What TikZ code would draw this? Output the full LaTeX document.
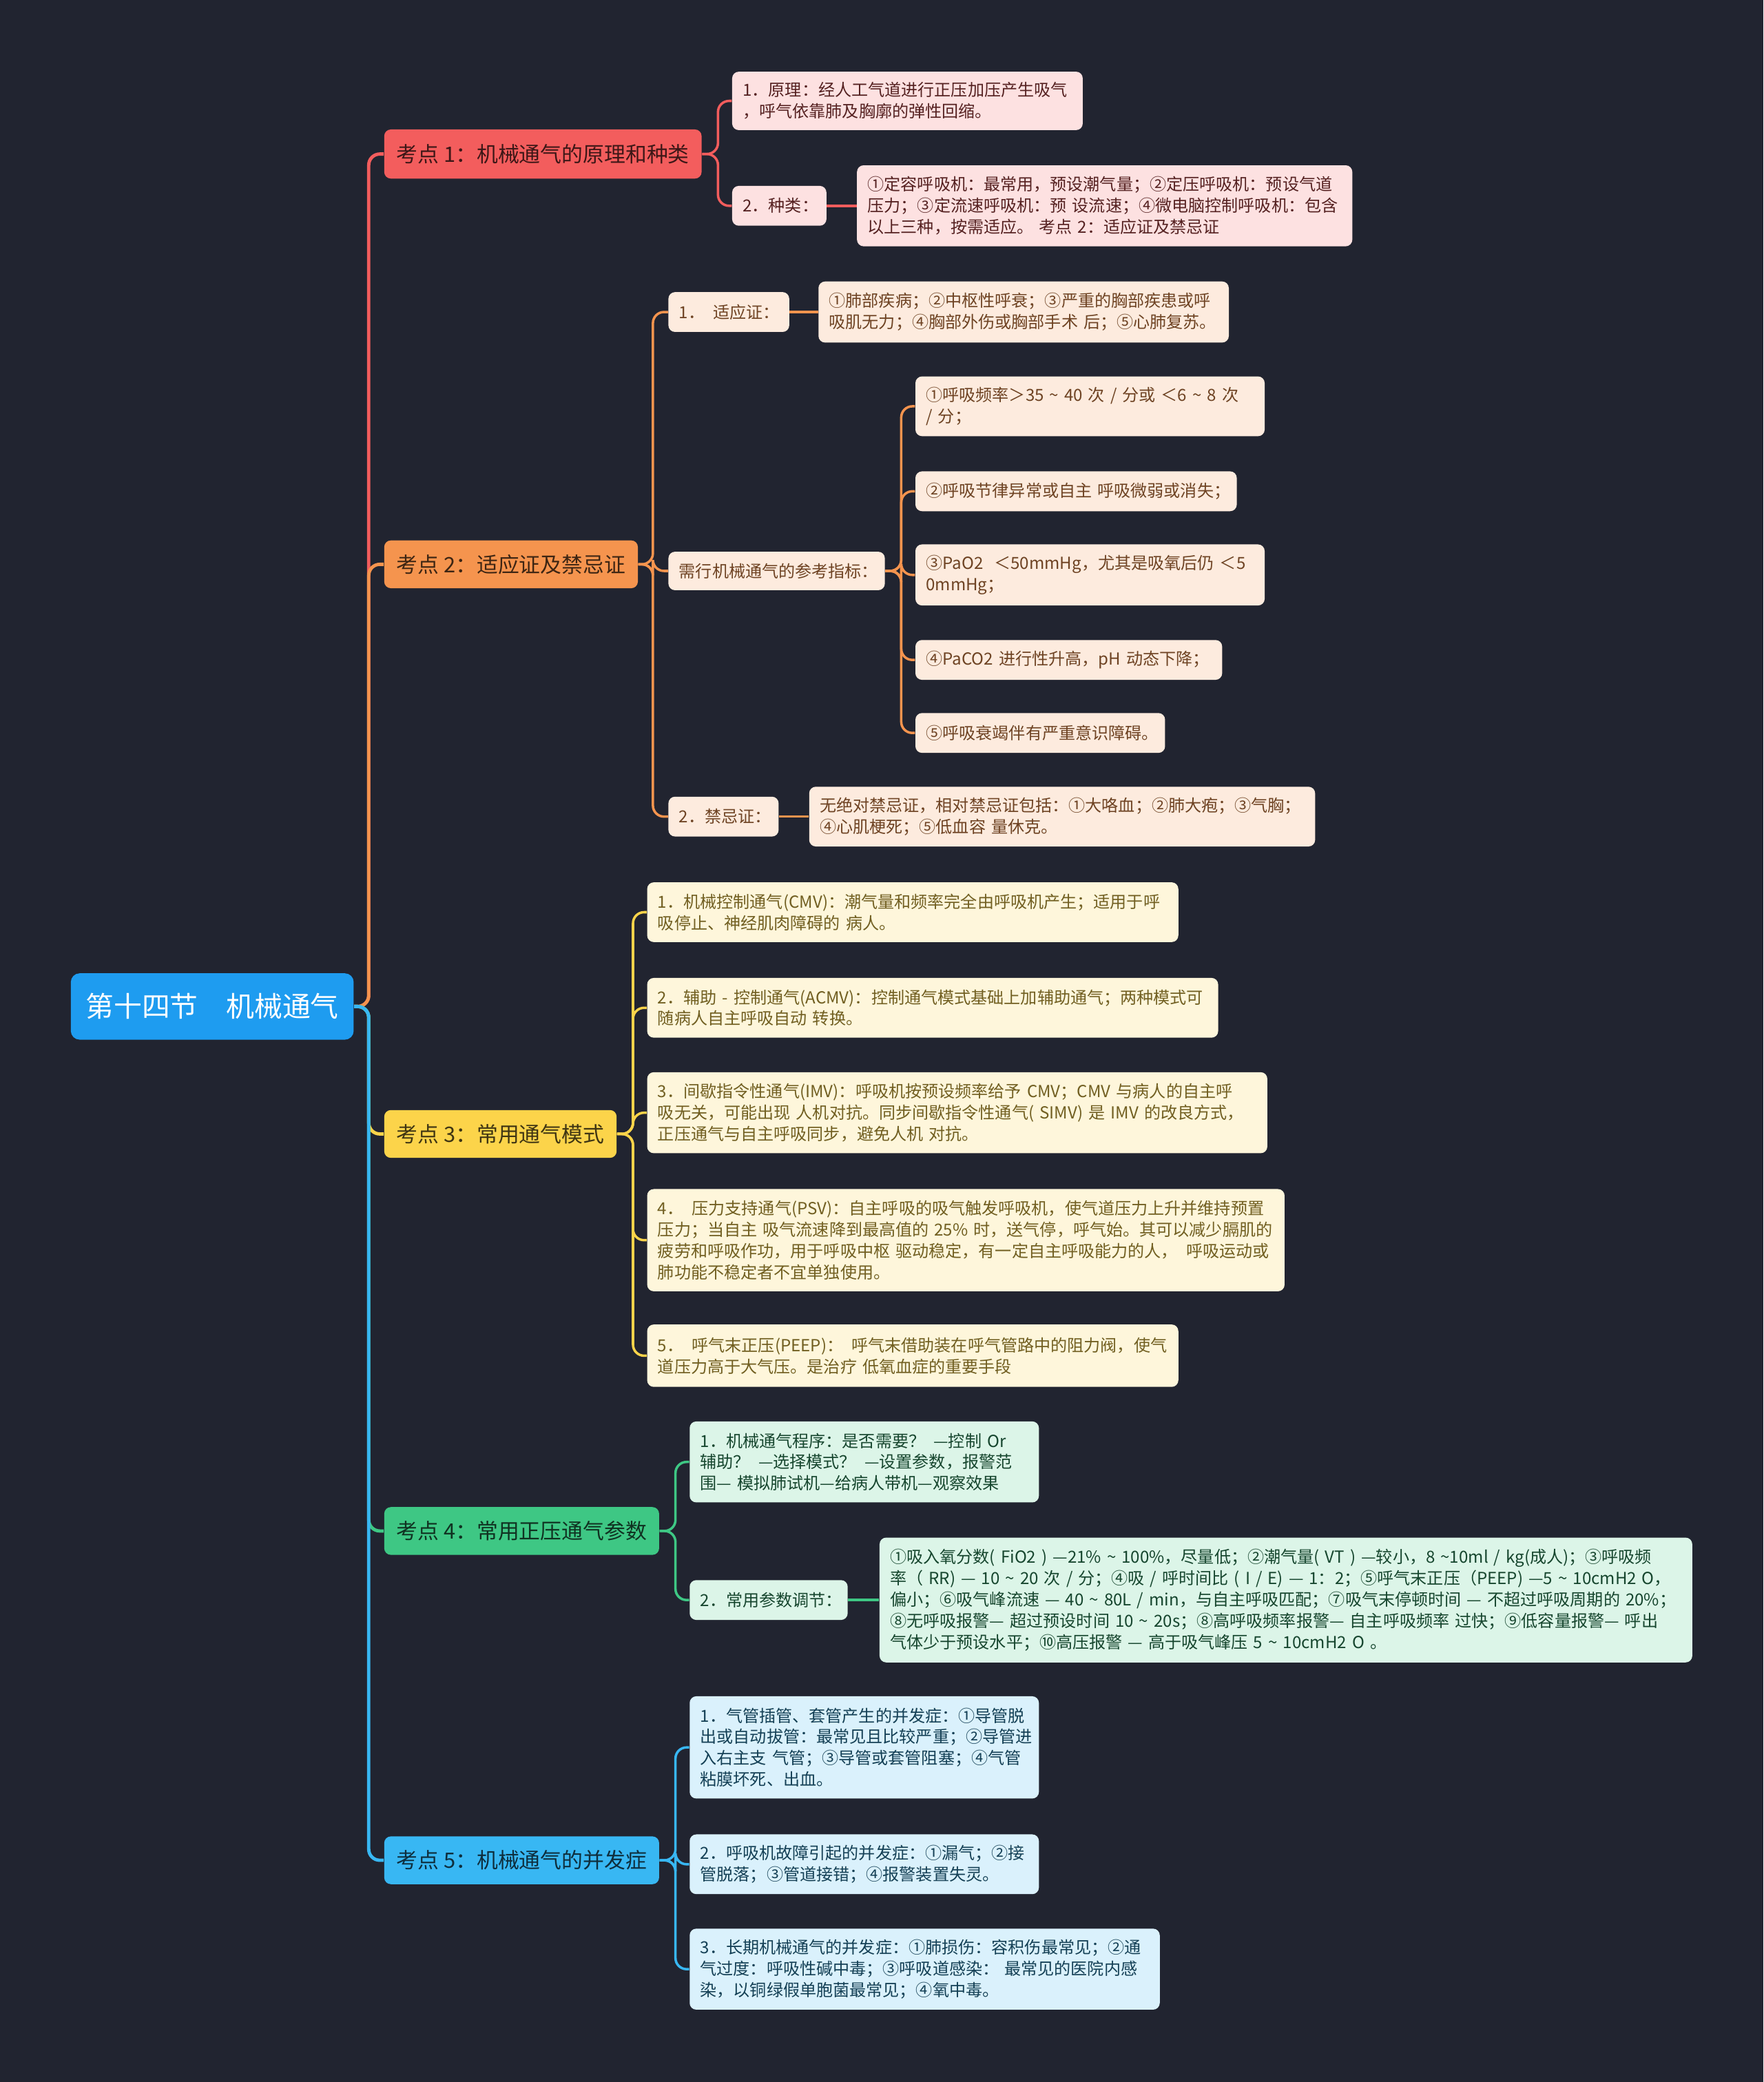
\documentclass[tikz,border=0pt]{standalone}
\usepackage{fontspec}
\setmainfont{Noto Sans CJK SC}
\usepackage{xcolor}
\usepackage{tikz}

\definecolor{bgc}{HTML}{212430}
\definecolor{rootc}{HTML}{1E9CF0}
\definecolor{kr}{HTML}{F35D5D}
\definecolor{ko}{HTML}{F5944E}
\definecolor{ky}{HTML}{FCD44A}
\definecolor{kg}{HTML}{3EC784}
\definecolor{kb}{HTML}{38B7F3}
\definecolor{lr}{HTML}{FDE1E1}
\definecolor{lo}{HTML}{FDEBDE}
\definecolor{ly}{HTML}{FEF6DB}
\definecolor{lg}{HTML}{DCF5E8}
\definecolor{lb}{HTML}{DAF1FC}
\newcommand{\tld}{\textasciitilde}

\begin{document}
\begin{tikzpicture}[x=0.6pt, y=-0.6pt,
  kp/.style={anchor=west, rounded corners=3pt, inner xsep=4.8pt, font=\fontsize{9.6pt}{11pt}\selectfont},
  leaf/.style={anchor=west, rounded corners=3pt, align=left, inner xsep=4.8pt, inner ysep=2pt, font=\fontsize{7.5pt}{9.6pt}\selectfont},
  rleaf/.style={leaf, fill=lr, text=kr!35!black},
  oleaf/.style={leaf, fill=lo, text=ko!45!black},
  yleaf/.style={leaf, fill=ly, text=ky!45!black},
  gleaf/.style={leaf, fill=lg, text=kg!35!black},
  bleaf/.style={leaf, fill=lb, text=kb!35!black},
  wh/.style 2 args={minimum width=#1*0.6pt, minimum height=#2*0.6pt},
  tw/.code 2 args={\pgfmathsetmacro\boxw{(#1-16)*0.6}\edef\setw{\noexpand\tikzset{text width=\boxw pt, minimum height=#2*0.6pt}}\setw},
  trunk/.style={line width=1.5pt, rounded corners=5pt},
  twig/.style={line width=1.1pt, rounded corners=5pt}]

\fill[bgc] (0,0) rectangle (1328,1568);

\node[kp, fill=rootc, text=white, wh={213}{50}, rounded corners=4pt, font=\fontsize{12.7pt}{14pt}\selectfont] (root) at (53,758) {第十四节　机械通气};

\node[kp, fill=kr, text=kr!25!black, wh={239}{37}] (k1) at (289,116) {考点 1：机械通气的原理和种类};
\node[kp, fill=ko, text=ko!25!black, wh={191}{36}] (k2) at (289,425) {考点 2：适应证及禁忌证};
\node[kp, fill=ky, text=ky!25!black, wh={175}{36}] (k3) at (289,854) {考点 3：常用通气模式};
\node[kp, fill=kg, text=kg!25!black, wh={207}{36}] (k4) at (289,1153) {考点 4：常用正压通气参数};
\node[kp, fill=kb, text=kb!25!black, wh={207}{36}] (k5) at (289,1401) {考点 5：机械通气的并发症};

\draw[trunk, kr] (root.east) -- ++(11,0) |- (k1.west);
\draw[trunk, ko] (root.east) -- ++(11,0) |- (k2.west);
\draw[trunk, ky] (root.east) -- ++(11,0) |- (k3.west);
\draw[trunk, kg] (root.east) -- ++(11,0) |- (k4.west);
\draw[trunk, kb] (root.east) -- ++(11,0) |- (k5.west);

\node[rleaf, tw={264}{44}] (k1a) at (551,76) {1．原理：经人工气道进行正压加压产生吸气\\，呼气依靠肺及胸廓的弹性回缩。};
\node[rleaf, tw={71}{30}] (k1b) at (551,155) {2．种类：};
\node[rleaf, tw={373}{61}] (k1c) at (645,155) {①定容呼吸机：最常用，预设潮气量；②定压呼吸机：预设气道\\压力；③定流速呼吸机：预 设流速；④微电脑控制呼吸机：包含\\以上三种，按需适应。 考点 2：适应证及禁忌证};
\draw[twig, kr] (k1.east) -- ++(12,0) |- (k1a.west);
\draw[twig, kr] (k1.east) -- ++(12,0) |- (k1b.west);
\draw[twig, kr] (k1b.east) -- (k1c.west);

\node[oleaf, tw={91}{30}] (k2a) at (503,235) {1．\enspace 适应证：};
\node[oleaf, tw={309}{46}] (k2d) at (616,235) {①肺部疾病；②中枢性呼衰；③严重的胸部疾患或呼\\吸肌无力；④胸部外伤或胸部手术 后；⑤心肺复苏。};
\node[oleaf, tw={163}{29}] (k2b) at (503,430) {需行机械通气的参考指标：};
\node[oleaf, tw={263}{45}] (k2b1) at (689,306) {①呼吸频率＞35 \tld{} 40 次 / 分或 ＜6 \tld{} 8 次\\/ 分；};
\node[oleaf, tw={242}{30}] (k2b2) at (689,370) {②呼吸节律异常或自主~呼吸微弱或消失；};
\node[oleaf, tw={263}{46}] (k2b3) at (689,433) {③PaO2 \ ＜50mmHg，尤其是吸氧后仍 ＜5\\0mmHg；};
\node[oleaf, tw={231}{30}] (k2b4) at (689,497) {④PaCO2 进行性升高，pH 动态下降；};
\node[oleaf, tw={188}{30}] (k2b5) at (689,552) {⑤呼吸衰竭伴有严重意识障碍。};
\node[oleaf, tw={83}{30}] (k2c) at (503,615) {2．禁忌证：};
\node[oleaf, tw={381}{45}] (k2e) at (609,615) {无绝对禁忌证，相对禁忌证包括：①大咯血；②肺大疱；③气胸；\\④心肌梗死；⑤低血容 量休克。};
\draw[twig, ko] (k2.east) -- ++(11,0) |- (k2a.west);
\draw[twig, ko] (k2.east) -- ++(11,0) |- (k2b.west);
\draw[twig, ko] (k2.east) -- ++(11,0) |- (k2c.west);
\draw[twig, ko] (k2a.east) -- (k2d.west);
\draw[twig, ko] (k2c.east) -- (k2e.west);
\foreach \i in {1,...,5}
  \draw[twig, ko] (k2b.east) -- ++(12,0) |- (k2b\i.west);

\node[yleaf, tw={400}{45}] (k3a) at (487,687) {1．机械控制通气(CMV)：潮气量和频率完全由呼吸机产生；适用于呼\\吸停止、神经肌肉障碍的 病人。};
\node[yleaf, tw={430}{45}] (k3b) at (487,759) {2．辅助 - 控制通气(ACMV)：控制通气模式基础上加辅助通气；两种模式可\\随病人自主呼吸自动 转换。};
\node[yleaf, tw={467}{61}] (k3c) at (487,838) {3．间歇指令性通气(IMV)：呼吸机按预设频率给予 CMV；CMV 与病人的自主呼\\吸无关，可能出现 人机对抗。同步间歇指令性通气( SIMV) 是 IMV 的改良方式，\\正压通气与自主呼吸同步，避免人机 对抗。};
\node[yleaf, tw={480}{77}] (k3d) at (487,934) {4．\enspace 压力支持通气(PSV)：自主呼吸的吸气触发呼吸机，使气道压力上升并维持预置\\压力；当自主 吸气流速降到最高值的 25\% 时，送气停，呼气始。其可以减少膈肌的\\疲劳和呼吸作功，用于呼吸中枢 驱动稳定，有一定自主呼吸能力的人，\enspace 呼吸运动或\\肺功能不稳定者不宜单独使用。};
\node[yleaf, tw={400}{47}] (k3e) at (487,1021) {5．\enspace 呼气末正压(PEEP)：\enspace 呼气末借助装在呼气管路中的阻力阀，使气\\道压力高于大气压。是治疗 低氧血症的重要手段};
\foreach \i in {a,b,c,d,e}
  \draw[twig, ky] (k3.east) -- ++(12,0) |- (k3\i.west);

\node[gleaf, tw={263}{61}] (k4a) at (519,1101) {1．机械通气程序：是否需要？\enspace —控制 Or\\辅助？\enspace —选择模式？\enspace —设置参数，报警范\\围— 模拟肺试机—给病人带机—观察效果};
\node[gleaf, tw={119}{30}] (k4b) at (519,1205) {2．常用参数调节：};
\node[gleaf, tw={612}{94}] (k4c) at (662,1205) {①吸入氧分数( FiO2 ) —21\% \tld{} 100\%，尽量低；②潮气量( VT ) —较小，8 \tld{}10ml / kg(成人)；③呼吸频\\率（ RR) — 10 \tld{} 20 次 / 分；④吸 / 呼时间比 ( I / E) — 1：2；⑤呼气末正压（PEEP) —5 \tld{} 10cmH2 O，\\偏小；⑥吸气峰流速 — 40 \tld{} 80L / min，与自主呼吸匹配；⑦吸气末停顿时间 — 不超过呼吸周期的 20\%；\\⑧无呼吸报警— 超过预设时间 10 \tld{} 20s；⑧高呼吸频率报警— 自主呼吸频率 过快；⑨低容量报警— 呼出\\气体少于预设水平；⑩高压报警 — 高于吸气峰压 5 \tld{} 10cmH2 O 。};
\draw[twig, kg] (k4.east) -- ++(12,0) |- (k4a.west);
\draw[twig, kg] (k4.east) -- ++(12,0) |- (k4b.west);
\draw[twig, kg] (k4b.east) -- (k4c.west);

\node[bleaf, tw={263}{77}] (k5a) at (519,1316) {1．气管插管、套管产生的并发症：①导管脱\\出或自动拔管：最常见且比较严重；②导管进\\入右主支 气管；③导管或套管阻塞；④气管\\粘膜坏死、出血。};
\node[bleaf, tw={263}{45}] (k5b) at (519,1404) {2．呼吸机故障引起的并发症：①漏气；②接\\管脱落；③管道接错；④报警装置失灵。};
\node[bleaf, tw={354}{61}] (k5c) at (519,1483) {3．长期机械通气的并发症：①肺损伤：容积伤最常见；②通\\气过度：呼吸性碱中毒；③呼吸道感染： 最常见的医院内感\\染，以铜绿假单胞菌最常见；④氧中毒。};
\foreach \i in {a,b,c}
  \draw[twig, kb] (k5.east) -- ++(12,0) |- (k5\i.west);
\end{tikzpicture}
\end{document}
